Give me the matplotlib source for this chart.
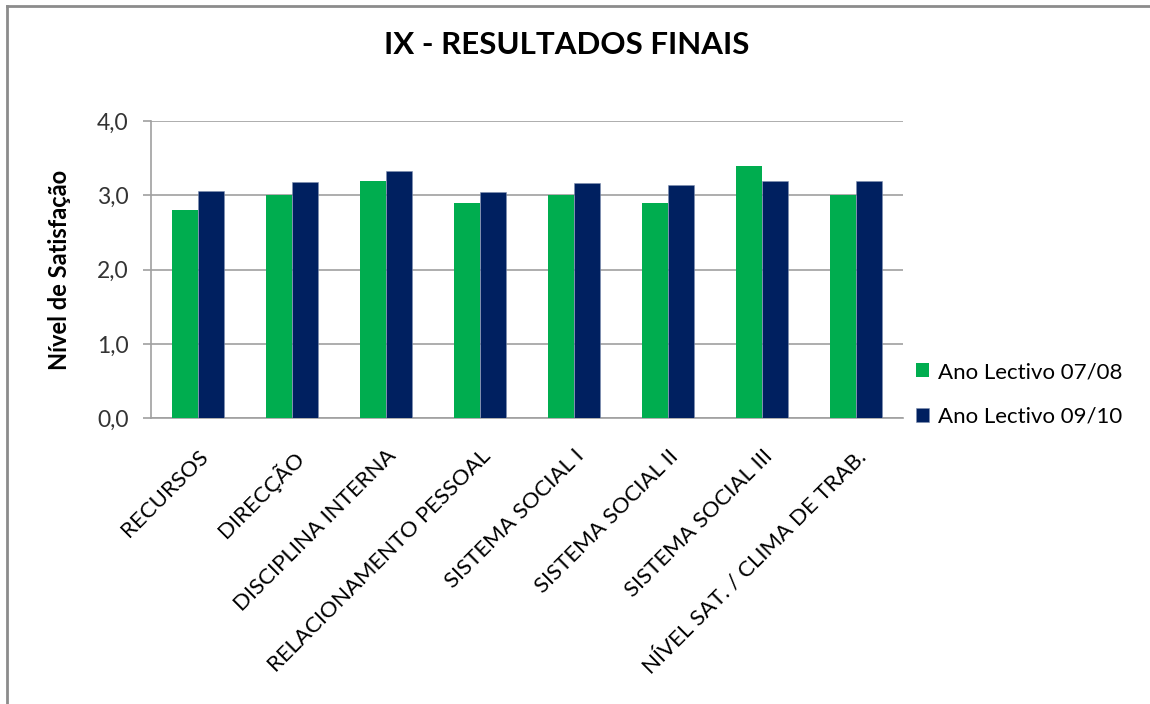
import numpy as np
import matplotlib.pyplot as plt
from matplotlib.lines import Line2D

plt.rcParams['font.family'] = ['Lato', 'DejaVu Sans']

# data
categories = ['RECURSOS', 'DIRECÇÃO', 'DISCIPLINA INTERNA', 'RELACIONAMENTO PESSOAL',
              'SISTEMA SOCIAL I', 'SISTEMA SOCIAL II', 'SISTEMA SOCIAL III',
              'NÍVEL SAT. / CLIMA DE TRAB.']
ano_0708 = [2.8, 3.0, 3.2, 2.9, 3.0, 2.9, 3.4, 3.0]
ano_0910 = [3.06, 3.18, 3.33, 3.04, 3.16, 3.14, 3.2, 3.2]
series_labels = ['Ano Lectivo 07/08', 'Ano Lectivo 09/10']
yticks = [0, 1, 2, 3, 4]
ytick_labels = ['0,0', '1,0', '2,0', '3,0', '4,0']

fig = plt.figure(figsize=(11.5, 7.04), dpi=100)
ax = fig.add_axes([0.1313, 0.406, 0.654, 0.422])

# outer border (only top and left visible)
fig.lines.append(Line2D([0.006, 1.0], [0.992, 0.992], transform=fig.transFigure,
                        color='#8c8c8c', linewidth=2))
fig.lines.append(Line2D([0.006, 0.006], [0.0, 0.992], transform=fig.transFigure,
                        color='#8c8c8c', linewidth=2))

x = np.arange(len(categories))
w = 0.28
b1 = ax.bar(x - w / 2, ano_0708, w, color='#00ad4f', label=series_labels[0], zorder=3)
b2 = ax.bar(x + w / 2, ano_0910, w, color='#002060', edgecolor='#8090b0', linewidth=0.4,
            label=series_labels[1], zorder=3)

ax.set_xlim(-0.5, len(categories) - 0.5)
ax.set_ylim(0, 4)
ax.set_yticks(yticks)
ax.set_yticklabels(ytick_labels, fontsize=16.5, color='#333333')
ax.yaxis.grid(True, color='#a0a0a0', linewidth=1.2, zorder=0)
ax.set_xticks(x)
ax.set_xticklabels(categories, rotation=45, ha='right', rotation_mode='anchor', fontsize=16)
ax.tick_params(axis='x', length=0, pad=20)
ax.tick_params(axis='y', length=6, width=1.2, color='#a0a0a0', pad=10)

for s in ['top', 'right']:
    ax.spines[s].set_visible(False)
ax.spines['left'].set_color('#a0a0a0')
ax.spines['bottom'].set_color('#a0a0a0')
ax.spines['left'].set_linewidth(1.2)
ax.spines['bottom'].set_linewidth(1.2)

ax.set_ylabel('Nível de Satisfação', fontsize=17, fontweight='bold', labelpad=19)

fig.text(0.493, 0.936, 'IX - RESULTADOS FINAIS', ha='center', va='center',
         fontsize=22.5, fontweight='bold')

fig.legend(handles=[b1, b2], labels=series_labels, loc='center left',
           bbox_to_anchor=(0.779, 0.44), frameon=False, fontsize=16,
           handlelength=0.6, handleheight=0.6, handletextpad=0.4, labelspacing=1.1)

fig.savefig('out.png', dpi=100)
